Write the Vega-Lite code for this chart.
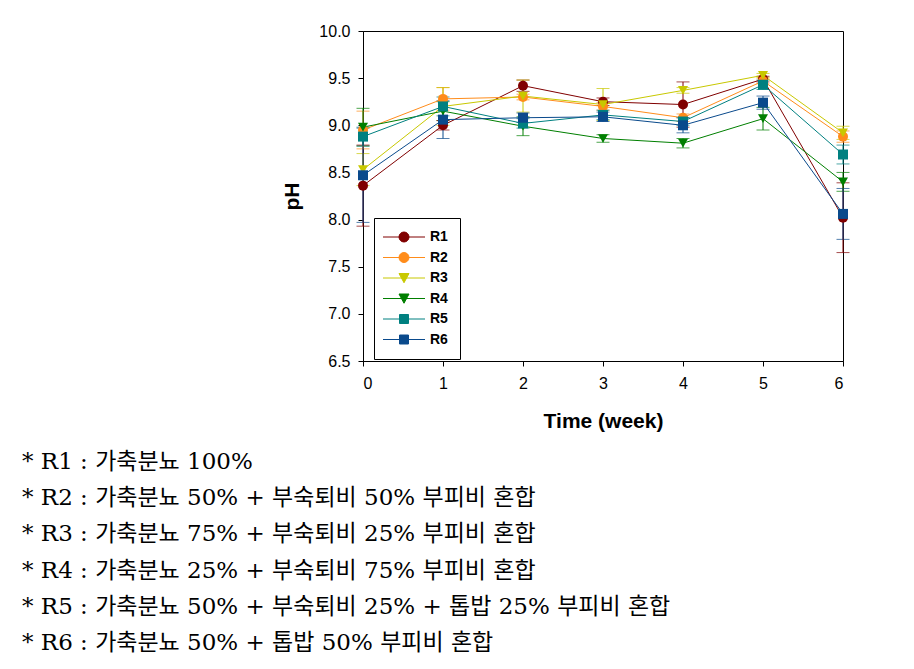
{
  "$schema": "https://vega.github.io/schema/vega-lite/v6.json",
  "autosize": {"type": "none"},
  "padding": {"left": 363, "top": 31, "right": 71, "bottom": 308},
  "width": 480,
  "height": 330,
  "background": "white",
  "title": {
    "text": [
      "* R1 : 가축분뇨 100%",
      "* R2 : 가축분뇨 50% + 부숙퇴비 50% 부피비 혼합",
      "* R3 : 가축분뇨 75% + 부숙퇴비 25% 부피비 혼합",
      "* R4 : 가축분뇨 25% + 부숙퇴비 75% 부피비 혼합",
      "* R5 : 가축분뇨 50% + 부숙퇴비 25% + 톱밥 25% 부피비 혼합",
      "* R6 : 가축분뇨 50% + 톱밥 50% 부피비 혼합"
    ],
    "orient": "bottom",
    "anchor": "start",
    "frame": "group",
    "dx": -341,
    "offset": 20,
    "font": "DejaVu Serif, Noto Sans CJK KR",
    "fontSize": 23,
    "fontWeight": "normal",
    "lineHeight": 36.2,
    "align": "left",
    "baseline": "top",
    "color": "black"
  },
  "data": {
    "values": [
      {"week": 0, "series": "R1", "pH": 8.36, "err": 0.43},
      {"week": 1, "series": "R1", "pH": 9.00, "err": 0.05},
      {"week": 2, "series": "R1", "pH": 9.42, "err": 0.06},
      {"week": 3, "series": "R1", "pH": 9.25, "err": 0.04},
      {"week": 4, "series": "R1", "pH": 9.22, "err": 0.24},
      {"week": 5, "series": "R1", "pH": 9.49, "err": 0.03},
      {"week": 6, "series": "R1", "pH": 8.02, "err": 0.37},
      {"week": 0, "series": "R2", "pH": 8.95, "err": 0.20},
      {"week": 1, "series": "R2", "pH": 9.28, "err": 0.12},
      {"week": 2, "series": "R2", "pH": 9.30, "err": 0.03},
      {"week": 3, "series": "R2", "pH": 9.20, "err": 0.04},
      {"week": 4, "series": "R2", "pH": 9.08, "err": 0.04},
      {"week": 5, "series": "R2", "pH": 9.47, "err": 0.03},
      {"week": 6, "series": "R2", "pH": 8.88, "err": 0.06},
      {"week": 0, "series": "R3", "pH": 8.53, "err": 0.17},
      {"week": 1, "series": "R3", "pH": 9.20, "err": 0.20},
      {"week": 2, "series": "R3", "pH": 9.31, "err": 0.17},
      {"week": 3, "series": "R3", "pH": 9.22, "err": 0.17},
      {"week": 4, "series": "R3", "pH": 9.37, "err": 0.03},
      {"week": 5, "series": "R3", "pH": 9.53, "err": 0.02},
      {"week": 6, "series": "R3", "pH": 8.92, "err": 0.07},
      {"week": 0, "series": "R4", "pH": 8.98, "err": 0.20},
      {"week": 1, "series": "R4", "pH": 9.15, "err": 0.10},
      {"week": 2, "series": "R4", "pH": 8.99, "err": 0.10},
      {"week": 3, "series": "R4", "pH": 8.86, "err": 0.04},
      {"week": 4, "series": "R4", "pH": 8.81, "err": 0.05},
      {"week": 5, "series": "R4", "pH": 9.07, "err": 0.12},
      {"week": 6, "series": "R4", "pH": 8.40, "err": 0.10},
      {"week": 0, "series": "R5", "pH": 8.88, "err": 0.10},
      {"week": 1, "series": "R5", "pH": 9.20, "err": 0.10},
      {"week": 2, "series": "R5", "pH": 9.02, "err": 0.05},
      {"week": 3, "series": "R5", "pH": 9.11, "err": 0.05},
      {"week": 4, "series": "R5", "pH": 9.04, "err": 0.04},
      {"week": 5, "series": "R5", "pH": 9.43, "err": 0.05},
      {"week": 6, "series": "R5", "pH": 8.69, "err": 0.10},
      {"week": 0, "series": "R6", "pH": 8.47, "err": 0.50},
      {"week": 1, "series": "R6", "pH": 9.06, "err": 0.20},
      {"week": 2, "series": "R6", "pH": 9.08, "err": 0.05},
      {"week": 3, "series": "R6", "pH": 9.09, "err": 0.05},
      {"week": 4, "series": "R6", "pH": 9.00, "err": 0.08},
      {"week": 5, "series": "R6", "pH": 9.24, "err": 0.07},
      {"week": 6, "series": "R6", "pH": 8.06, "err": 0.27}
    ]
  },
  "encoding": {
    "x": {
      "field": "week", "type": "quantitative",
      "scale": {"domain": [0, 6], "nice": false, "zero": false},
      "axis": {"title": "Time (week)", "values": [0, 1, 2, 3, 4, 5, 6], "format": "d", "labelPadding": 9, "titlePadding": 19}
    },
    "color": {
      "field": "series", "type": "nominal",
      "scale": {"domain": ["R1", "R2", "R3", "R4", "R5", "R6"], "range": ["#800000", "#FF8C1A", "#C8C800", "#007F00", "#008080", "#0A4A8C"]},
      "legend": {
        "title": null,
        "orient": "none",
        "legendX": 11,
        "legendY": 187,
        "symbolType": "M-4.2,0H4.2",
        "encode": {
          "symbols": {
            "update": {
              "shape": {"signal": "(datum.value === 'R1' || datum.value === 'R2') ? 'M-4.2,0H4.2M-1,0A1,1 0 1,0 1,0A1,1 0 1,0 -1,0Z' : ((datum.value === 'R3' || datum.value === 'R4') ? 'M-4.2,0H4.2M-1,-0.9H1L0,0.95Z' : 'M-4.2,0H4.2M-0.9,-0.9H0.9V0.9H-0.9Z')"},
              "stroke": {"signal": "scale('color', datum.value)"},
              "fill": {"signal": "scale('color', datum.value)"},
              "strokeWidth": {"value": 1},
              "opacity": {"value": 1}
            }
          }
        }
      }
    }
  },
  "layer": [
    {
      "mark": {"type": "errorbar", "ticks": {"size": 13}, "thickness": 1},
      "encoding": {
        "y": {"field": "pH", "type": "quantitative", "scale": {"domain": [6.5, 10], "nice": false, "zero": false}, "title": "pH"},
        "yError": {"field": "err"}
      }
    },
    {
      "mark": {"type": "line", "strokeWidth": 1},
      "encoding": {
        "y": {"field": "pH", "type": "quantitative"}
      }
    },
    {
      "transform": [{"filter": {"field": "series", "oneOf": ["R1", "R2"]}}],
      "mark": {"type": "point", "filled": true, "size": 100, "opacity": 1, "shape": "circle"},
      "encoding": {"y": {"field": "pH", "type": "quantitative"}}
    },
    {
      "transform": [{"filter": {"field": "series", "oneOf": ["R3", "R4"]}}],
      "mark": {"type": "point", "filled": true, "size": 100, "opacity": 1, "shape": "triangle-down"},
      "encoding": {"y": {"field": "pH", "type": "quantitative"}}
    },
    {
      "transform": [{"filter": {"field": "series", "oneOf": ["R5", "R6"]}}],
      "mark": {"type": "point", "filled": true, "size": 100, "opacity": 1, "shape": "square"},
      "encoding": {"y": {"field": "pH", "type": "quantitative"}}
    }
  ],
  "config": {
    "font": "Liberation Sans",
    "view": {"stroke": "black", "strokeWidth": 1},
    "axis": {
      "grid": false,
      "domainColor": "black",
      "tickColor": "black",
      "tickSize": 5,
      "labelColor": "black",
      "labelFont": "Liberation Sans",
      "labelFontSize": 16,
      "titleFont": "Liberation Sans",
      "titleFontSize": 21,
      "titleFontWeight": "bold",
      "titleColor": "black"
    },
    "axisY": {"labelPadding": 8, "titlePadding": 16, "format": ".1f", "values": [6.5, 7, 7.5, 8, 8.5, 9, 9.5, 10]},
    "legend": {
      "strokeColor": "black",
      "fillColor": "white",
      "padding": 12,
      "labelFont": "Liberation Sans",
      "labelFontSize": 14,
      "labelFontWeight": "bold",
      "labelColor": "black",
      "symbolSize": 100,
      "rowPadding": 6.5,
      "symbolOffset": 11,
      "labelOffset": 19,
      "cornerRadius": 0
    }
  }
}
